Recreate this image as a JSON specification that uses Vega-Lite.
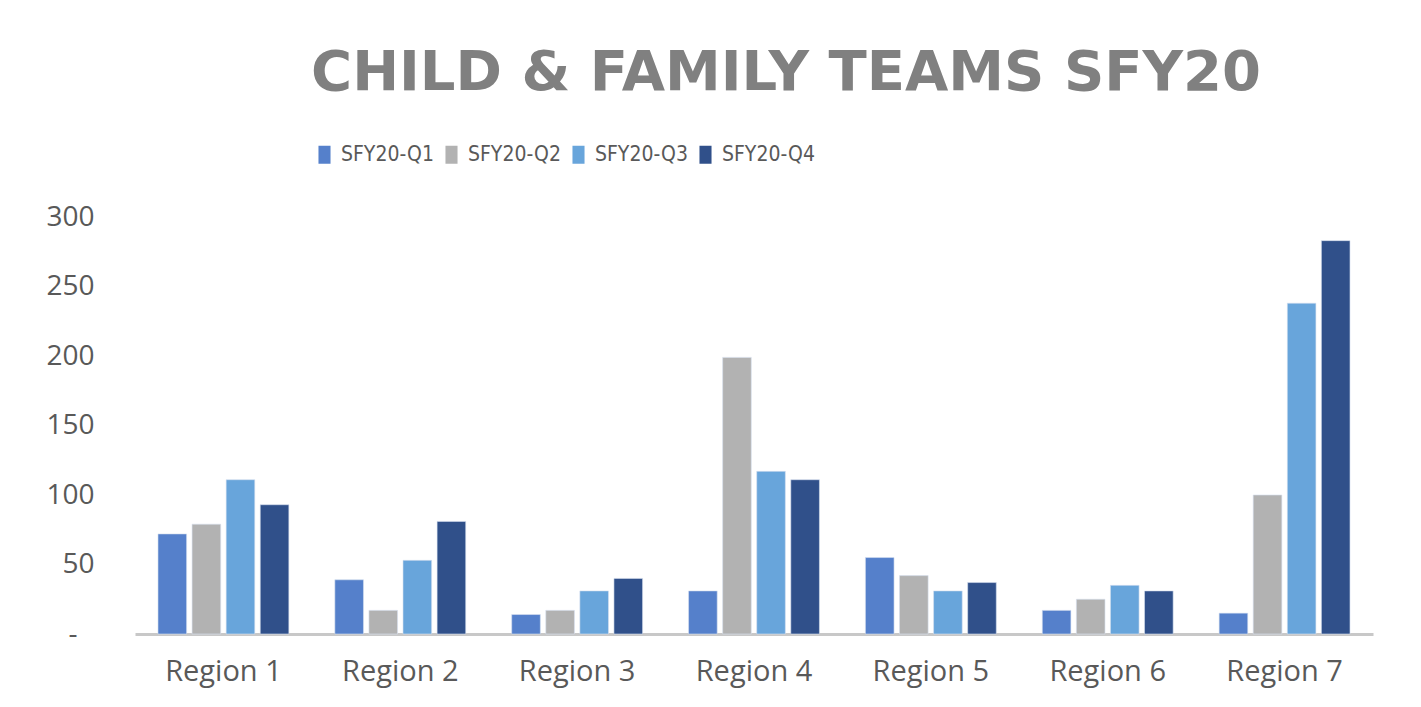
{
  "$schema": "https://vega.github.io/schema/vega-lite/v6.json",
  "autosize": {"type": "none"},
  "width": 1238,
  "height": 417,
  "padding": {"left": 135, "top": 217, "right": 48, "bottom": 73},
  "background": "white",
  "title": {
    "text": "CHILD & FAMILY TEAMS SFY20",
    "font": "DejaVu Sans",
    "fontSize": 56,
    "fontWeight": "bold",
    "color": "#808080",
    "anchor": "middle",
    "dx": 32,
    "offset": 42
  },
  "data": {
    "values": [
      {"region": "Region 1", "quarter": "SFY20-Q1", "value": 72},
      {"region": "Region 1", "quarter": "SFY20-Q2", "value": 79},
      {"region": "Region 1", "quarter": "SFY20-Q3", "value": 111},
      {"region": "Region 1", "quarter": "SFY20-Q4", "value": 93},
      {"region": "Region 2", "quarter": "SFY20-Q1", "value": 39},
      {"region": "Region 2", "quarter": "SFY20-Q2", "value": 17},
      {"region": "Region 2", "quarter": "SFY20-Q3", "value": 53},
      {"region": "Region 2", "quarter": "SFY20-Q4", "value": 81},
      {"region": "Region 3", "quarter": "SFY20-Q1", "value": 14},
      {"region": "Region 3", "quarter": "SFY20-Q2", "value": 17},
      {"region": "Region 3", "quarter": "SFY20-Q3", "value": 31},
      {"region": "Region 3", "quarter": "SFY20-Q4", "value": 40},
      {"region": "Region 4", "quarter": "SFY20-Q1", "value": 31},
      {"region": "Region 4", "quarter": "SFY20-Q2", "value": 199},
      {"region": "Region 4", "quarter": "SFY20-Q3", "value": 117},
      {"region": "Region 4", "quarter": "SFY20-Q4", "value": 111},
      {"region": "Region 5", "quarter": "SFY20-Q1", "value": 55},
      {"region": "Region 5", "quarter": "SFY20-Q2", "value": 42},
      {"region": "Region 5", "quarter": "SFY20-Q3", "value": 31},
      {"region": "Region 5", "quarter": "SFY20-Q4", "value": 37},
      {"region": "Region 6", "quarter": "SFY20-Q1", "value": 17},
      {"region": "Region 6", "quarter": "SFY20-Q2", "value": 25},
      {"region": "Region 6", "quarter": "SFY20-Q3", "value": 35},
      {"region": "Region 6", "quarter": "SFY20-Q4", "value": 31},
      {"region": "Region 7", "quarter": "SFY20-Q1", "value": 15},
      {"region": "Region 7", "quarter": "SFY20-Q2", "value": 100},
      {"region": "Region 7", "quarter": "SFY20-Q3", "value": 238},
      {"region": "Region 7", "quarter": "SFY20-Q4", "value": 283}
    ]
  },
  "mark": {"type": "bar", "stroke": "#d6e0f0", "strokeWidth": 0.6},
  "encoding": {
    "x": {
      "field": "region",
      "type": "nominal",
      "scale": {"paddingInner": 0.26, "paddingOuter": 0.13},
      "axis": {
        "title": null,
        "labelAngle": 0,
        "ticks": false,
        "domainColor": "#c8c8c8",
        "domainWidth": 3,
        "labelFont": "Open Sans",
        "labelFontSize": 29,
        "labelColor": "#595959",
        "labelPadding": 23
      }
    },
    "xOffset": {
      "field": "quarter",
      "type": "nominal",
      "scale": {"paddingInner": 0.16, "paddingOuter": 0}
    },
    "y": {
      "field": "value",
      "type": "quantitative",
      "scale": {"domain": [0, 300], "nice": false},
      "axis": {
        "title": null,
        "values": [0, 50, 100, 150, 200, 250, 300],
        "labelExpr": "datum.value === 0 ? '-' : datum.label",
        "grid": false,
        "ticks": false,
        "domain": false,
        "labelFont": "Open Sans",
        "labelFontSize": 28,
        "labelColor": "#595959",
        "labelPadding": {"condition": {"test": "datum.value === 0", "value": 58}, "value": 41}
      }
    },
    "color": {
      "field": "quarter",
      "type": "nominal",
      "scale": {
        "domain": ["SFY20-Q1", "SFY20-Q2", "SFY20-Q3", "SFY20-Q4"],
        "range": ["#5580cb", "#b2b2b2", "#68a5db", "#30508a"]
      },
      "legend": {
        "title": null,
        "orient": "none",
        "direction": "horizontal",
        "legendX": 179,
        "legendY": -73,
        "symbolType": "M-0.67,-1H0.67V1H-0.67Z",
        "symbolSize": 324,
        "symbolStrokeWidth": 0,
        "labelFont": "'Liberation Sans Narrow', 'DejaVu Sans Condensed', 'Liberation Sans'",
        "labelFontSize": 21,
        "labelColor": "#595959",
        "labelOffset": 6,
        "columnPadding": 7
      }
    }
  },
  "config": {
    "view": {"stroke": null}
  }
}
